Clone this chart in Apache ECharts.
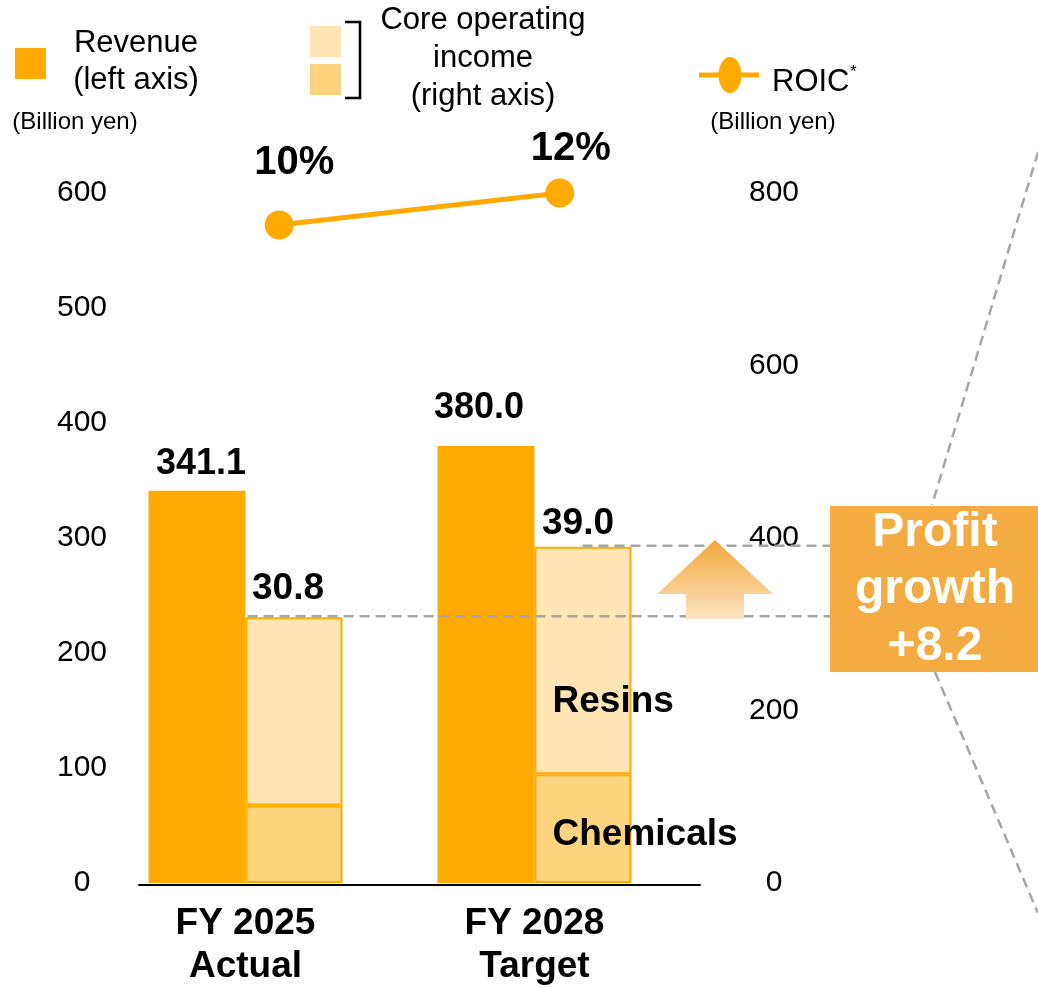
<!DOCTYPE html>
<html>
<head>
<meta charset="utf-8">
<script src="https://cdn.jsdelivr.net/npm/echarts@6/dist/echarts.min.js"></script>
<style>
html, body { margin: 0; padding: 0; background: #fff; }
#main { width: 1038px; height: 988px; }
</style>
</head>
<body>
<div id="main"></div>
<script>
// data (billion yen, ROIC in %)
const categories = ['FY 2025\nActual', 'FY 2028\nTarget'];
const revenue = [341.1, 380.0];
const chemicals = [9.0, 12.6];
const resins = [21.8, 26.4];
const coreIncome = [30.8, 39.0];
const roic = [10, 12];
const rightTickLabels = ['0', '200', '400', '600', '800'];

const FONT = "'Liberation Sans', Arial, sans-serif";
const ORANGE = '#FFAA00';
const LIGHT = '#FFE5B3';
const MID = '#FFD480';
const DASH = '#A6A6A6';

var myChart = echarts.init(document.getElementById('main'));

myChart.setOption({
  animation: false,
  textStyle: { fontFamily: FONT },
  grid: [
    { left: 101, right: 359, top: 193, bottom: 105 },
    { left: 139, right: 338, top: 193, height: 32 }
  ],
  xAxis: [
    {
      type: 'category',
      gridIndex: 0,
      data: categories,
      axisLine: { show: false },
      axisTick: { show: false },
      axisLabel: {
        fontSize: 37, fontWeight: 'bold', color: '#000',
        lineHeight: 43, margin: 19, fontFamily: FONT
      }
    },
    {
      // only used for the line series and the black base line
      type: 'category',
      gridIndex: 1,
      data: categories,
      position: 'bottom',
      offset: 660,
      axisLine: { lineStyle: { color: '#000', width: 2 } },
      axisTick: { show: false },
      axisLabel: { show: false }
    }
  ],
  yAxis: [
    {
      type: 'value', gridIndex: 0, min: 0, max: 600, interval: 100,
      splitLine: { show: false },
      axisLine: { show: false },
      axisLabel: { fontSize: 30, color: '#000', align: 'center', margin: 19, fontFamily: FONT }
    },
    {
      type: 'value', gridIndex: 0, position: 'right', min: 0, max: 80, interval: 20,
      splitLine: { show: false },
      axisLine: { show: false },
      axisLabel: {
        fontSize: 30, color: '#000', align: 'center', margin: 95, fontFamily: FONT,
        formatter: function (v) { return rightTickLabels[Math.round(v / 20)]; }
      }
    },
    { type: 'value', gridIndex: 1, min: 10, max: 12, show: false }
  ],
  series: [
    {
      name: 'Revenue',
      type: 'bar',
      xAxisIndex: 0, yAxisIndex: 0,
      barWidth: 97, barGap: '0%',
      itemStyle: { color: ORANGE },
      data: revenue.map(function (v, i) {
        return { value: v, label: { offset: [[4, 5], [-7, -6]][i] } };
      }),
      label: {
        show: true, position: 'top', distance: 14,
        fontSize: 36, fontWeight: 'bold', color: '#000', fontFamily: FONT,
        formatter: function (p) { return p.value.toFixed(1); }
      }
    },
    {
      name: 'Chemicals',
      type: 'bar',
      stack: 'coi',
      xAxisIndex: 0, yAxisIndex: 1,
      barWidth: 97, barGap: '0%',
      itemStyle: { color: MID, borderColor: ORANGE, borderWidth: 2 },
      data: chemicals.map(function (v, i) {
        return i === 1 ? {
          value: v,
          label: {
            show: true, position: 'insideLeft', offset: [13, 6],
            fontSize: 37, fontWeight: 'bold', color: '#000', fontFamily: FONT,
            formatter: 'Chemicals'
          }
        } : v;
      })
    },
    {
      name: 'Resins',
      type: 'bar',
      stack: 'coi',
      xAxisIndex: 0, yAxisIndex: 1,
      barWidth: 97, barGap: '0%',
      itemStyle: { color: LIGHT, borderColor: ORANGE, borderWidth: 2 },
      data: resins.map(function (v, i) {
        return { value: v, label: { offset: [[-6, -3], [-5, 3]][i] } };
      }),
      label: {
        show: true, position: 'top', distance: 7,
        fontSize: 37, fontWeight: 'bold', color: '#000', fontFamily: FONT,
        formatter: function (p) { return coreIncome[p.dataIndex].toFixed(1); }
      }
    },
    {
      name: 'ROIC',
      type: 'line',
      xAxisIndex: 1, yAxisIndex: 2,
      clip: false,
      symbol: 'circle',
      symbolSize: 29,
      lineStyle: { color: ORANGE, width: 5 },
      itemStyle: { color: ORANGE },
      data: roic.map(function (v, i) {
        return { value: v, label: { offset: [[15, -9], [11, 9]][i] } };
      }),
      label: {
        show: true, position: 'top', distance: 19,
        fontSize: 40, fontWeight: 'bold', color: '#000', fontFamily: FONT,
        formatter: '{c}%'
      }
    }
  ]
});

// pixel positions of the income bar tops, for the dashed guide lines
var finder = { xAxisIndex: 0, yAxisIndex: 1 };
var topA = myChart.convertToPixel(finder, [0, coreIncome[0]]);
var topB = myChart.convertToPixel(finder, [1, coreIncome[1]]);
var resinsMid = myChart.convertToPixel(finder, [1, chemicals[1] + resins[1] / 2]);
var boxLeft = 830;

myChart.setOption({
  graphic: [
    // legend
    { type: 'rect', shape: { x: 15, y: 48, width: 31, height: 31 }, style: { fill: ORANGE } },
    {
      type: 'text', x: 136, y: 62,
      style: { text: 'Revenue\n(left axis)', fontSize: 31, fontFamily: FONT, fill: '#000', align: 'center', verticalAlign: 'middle', lineHeight: 37 }
    },
    { type: 'rect', shape: { x: 310, y: 26, width: 31, height: 31 }, style: { fill: LIGHT } },
    { type: 'rect', shape: { x: 310, y: 64, width: 31, height: 31 }, style: { fill: MID } },
    {
      type: 'polyline',
      shape: { points: [[345, 22], [360, 22], [360, 98], [345, 98]] },
      style: { stroke: '#000', lineWidth: 2.5, fill: null }
    },
    {
      type: 'text', x: 483, y: 58,
      style: { text: 'Core operating\nincome\n(right axis)', fontSize: 31, fontFamily: FONT, fill: '#000', align: 'center', verticalAlign: 'middle', lineHeight: 38 }
    },
    { type: 'line', shape: { x1: 699, y1: 75, x2: 759, y2: 75 }, style: { stroke: ORANGE, lineWidth: 5 } },
    { type: 'ellipse', shape: { cx: 730, cy: 75, rx: 11.5, ry: 18 }, style: { fill: ORANGE } },
    {
      type: 'text', x: 772, y: 82,
      style: { text: 'ROIC', fontSize: 31, fontFamily: FONT, fill: '#000', align: 'left', verticalAlign: 'middle' }
    },
    {
      type: 'text', x: 850, y: 72,
      style: { text: '*', fontSize: 17, fontFamily: FONT, fill: '#000', align: 'left', verticalAlign: 'middle' }
    },
    {
      type: 'text', x: 75, y: 122,
      style: { text: '(Billion yen)', fontSize: 24, fontFamily: FONT, fill: '#000', align: 'center', verticalAlign: 'middle' }
    },
    {
      type: 'text', x: 773, y: 122,
      style: { text: '(Billion yen)', fontSize: 24, fontFamily: FONT, fill: '#000', align: 'center', verticalAlign: 'middle' }
    },
    // segment name inside the FY2028 income bar
    {
      type: 'text', x: topB[0] + 18, y: resinsMid[1] + 41, z: 100,
      style: { text: 'Resins', fontSize: 37, fontWeight: 'bold', fontFamily: FONT, fill: '#000', align: 'left', verticalAlign: 'middle' }
    },
    // dashed guides
    {
      type: 'line', z: 50,
      shape: { x1: topA[0] + 2, y1: topA[1] - 1, x2: boxLeft, y2: topA[1] - 1 },
      style: { stroke: DASH, lineWidth: 2.5, lineDash: [10, 6] }
    },
    {
      type: 'line', z: 50,
      shape: { x1: topB[0] + 48, y1: topB[1] - 1, x2: boxLeft, y2: topB[1] - 1 },
      style: { stroke: DASH, lineWidth: 2.5, lineDash: [10, 6] }
    },
    {
      type: 'line',
      shape: { x1: 1038, y1: 152, x2: 932, y2: 505 },
      style: { stroke: DASH, lineWidth: 2.5, lineDash: [10, 6] }
    },
    {
      type: 'line',
      shape: { x1: 935, y1: 672, x2: 1038, y2: 913 },
      style: { stroke: DASH, lineWidth: 2.5, lineDash: [10, 6] }
    },
    // up arrow
    {
      type: 'polygon', z: 60,
      shape: { points: [[715, 540], [773, 594], [744, 594], [744, 619], [686, 619], [686, 594], [657, 594]] },
      style: {
        fill: new echarts.graphic.LinearGradient(0, 0, 0, 1, [
          { offset: 0, color: '#F2A73A' },
          { offset: 1, color: '#FCE4C2' }
        ])
      }
    },
    // profit growth box
    { type: 'rect', z: 60, shape: { x: boxLeft, y: 506, width: 210, height: 166 }, style: { fill: '#F4AC42' } },
    {
      type: 'text', x: 935, y: 590, z: 61,
      style: { text: 'Profit\ngrowth\n+8.2', fontSize: 48, fontWeight: 'bold', fontFamily: FONT, fill: '#FFFFFF', align: 'center', verticalAlign: 'middle', lineHeight: 57 }
    }
  ]
});
</script>
</body>
</html>
